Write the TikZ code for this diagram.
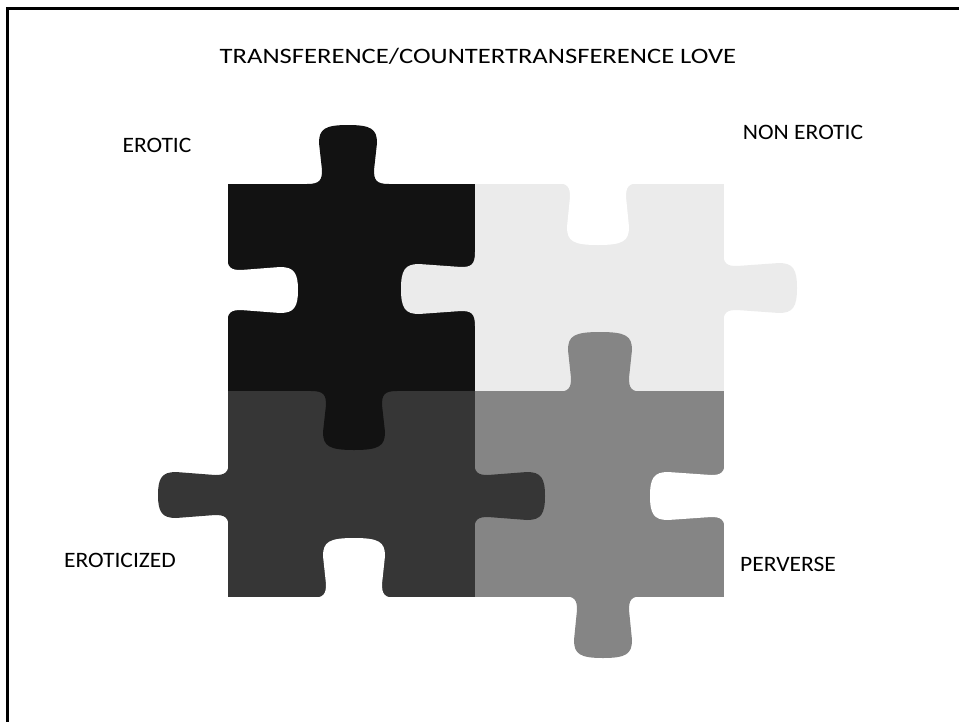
\documentclass[tikz,border=0pt]{standalone}
\usepackage{fontspec}
\setmainfont{Carlito}
\definecolor{erotic}{gray}{0.07}
\definecolor{nonerotic}{gray}{0.92}
\definecolor{eroticized}{gray}{0.21}
\definecolor{perverse}{gray}{0.52}
% knob: base point, angle, depth, half width, colour
\newcommand{\knob}[5]{%
  \fill[#5,shift={(#1)},rotate=#2] (-#4-12,-2) -- (-#4-12,0)
    .. controls (-#4+1,0) and (-#4+3,4) .. (-#4+3,14) -- (-#4,#3-18)
    .. controls (-#4,#3-4) and (-#4+6,#3) .. (0,#3)
    .. controls (#4-6,#3) and (#4,#3-4) .. (#4,#3-18) -- (#4-3,14)
    .. controls (#4-3,4) and (#4-1,0) .. (#4+12,0) -- (#4+12,-2) -- cycle;}
\begin{document}
\begin{tikzpicture}[x=1pt,y=-1pt,
    label text/.style={inner sep=0pt,font=\fontsize{22}{26}\selectfont,xscale=1.07,transform shape}]
                \useasboundingbox (0,0) rectangle (959,721);
                \draw[line width=3pt] (7.5,725) -- (7.5,8.5) -- (962,8.5);

                \node[label text,xscale=1.13] (title) at (478,56) {TRANSFERENCE/COUNTERTRANSFERENCE LOVE};
                \node[label text] (erotic) at (157,145) {EROTIC};
                \node[label text] (nonerotic) at (803,132) {NON EROTIC};
                \node[label text] (eroticized) at (120,560) {EROTICIZED};
                \node[label text] (perverse) at (788,564) {PERVERSE};

                \fill[erotic] (228,184) rectangle (475,391);
                \fill[nonerotic] (475,184) rectangle (724,391);
                \fill[eroticized] (228,391) rectangle (475,597);
                \fill[perverse] (475,391) rectangle (724,597);

                \knob{348,184}{180}{59}{29}{erotic}
                \knob{354,391}{0}{59}{31}{erotic}
                \knob{475,289}{-90}{74}{25}{nonerotic}
                \knob{723,288}{90}{74}{25}{nonerotic}
                \knob{229,495}{-90}{71}{23}{eroticized}
                \knob{474,496}{90}{71}{24}{eroticized}
                \knob{600,392}{180}{60}{32}{perverse}
                \knob{603,596}{0}{62}{29}{perverse}

                \knob{227,290}{90}{71}{23}{white}
                \knob{598,183}{0}{62}{31}{white}
                \knob{354,598}{180}{60}{31}{white}
                \knob{725,496}{-90}{75}{24}{white}
            \end{tikzpicture}
\end{document}
